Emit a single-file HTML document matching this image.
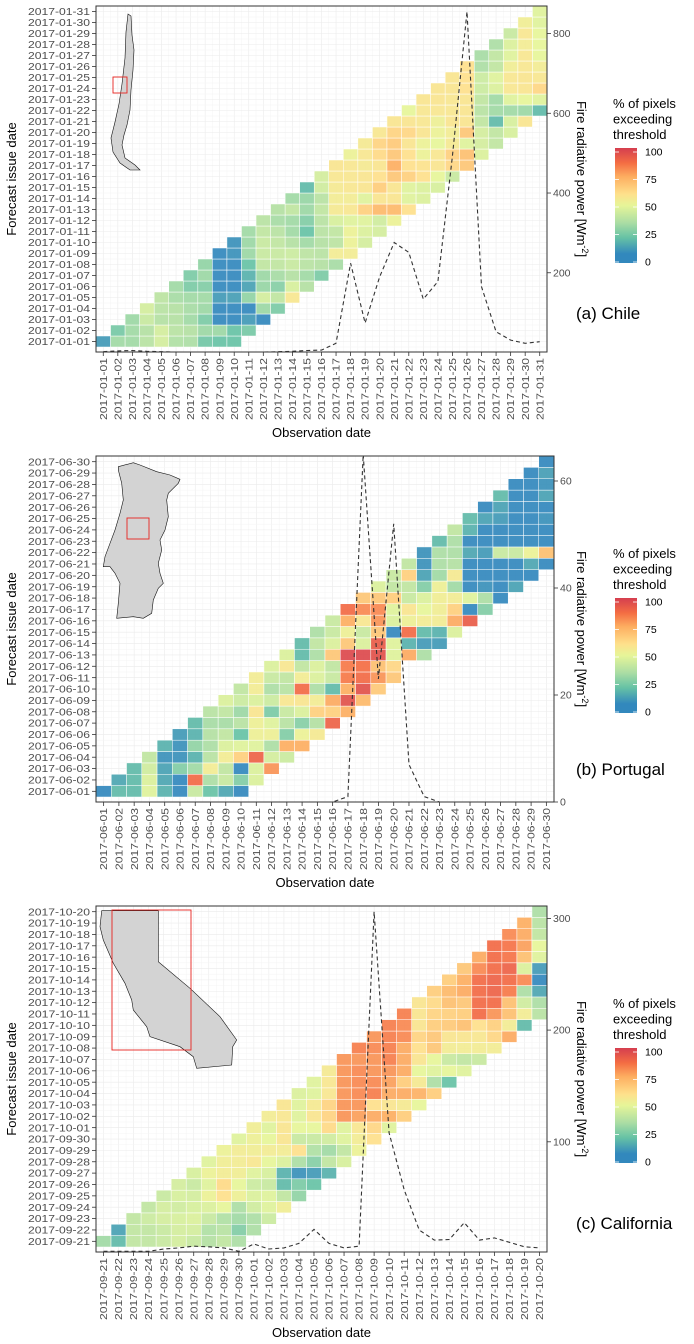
<!DOCTYPE html>
<html><head><meta charset="utf-8"><style>
html,body{margin:0;padding:0;background:#fff}
svg{display:block;font-family:"Liberation Sans",Arial,sans-serif}
</style></head><body>
<svg id="chart" width="694" height="1344" viewBox="0 0 694 1344" xmlns="http://www.w3.org/2000/svg">
<defs>
<linearGradient id="cbar" x1="0" y1="1" x2="0" y2="0">
<stop offset="0" stop-color="#3288BD"/><stop offset="0.08" stop-color="#3288BD"/><stop offset="0.22" stop-color="#66C2A5"/><stop offset="0.35" stop-color="#ABDDA4"/><stop offset="0.5" stop-color="#E6F598"/><stop offset="0.6" stop-color="#FEE08B"/><stop offset="0.75" stop-color="#FDAE61"/><stop offset="0.87" stop-color="#F46D43"/><stop offset="1" stop-color="#D53E4F"/>
</linearGradient>
</defs>
</svg>
<script>
// ---- Panel A (Chile) data ----
const rowsA = [
[12,33,33,38,45,36,35,24,22,22],[25,33,37,45,38,37,32,32,22,25],[32,42,37,37,33,26,5,5,12,8],
[45,38,37,34,32,5,5,8,32,26],[39,34,33,33,12,13,30,45,40,57],[33,26,27,6,5,14,31,28,46,37],
[26,32,5,5,18,32,34,37,33,26],[30,5,5,22,40,40,42,38,37,34],[6,10,32,42,42,43,39,38,55,55],
[10,32,42,40,37,33,37,39,52,45],[33,40,38,33,22,38,40,52,47,45],[38,34,33,27,38,46,48,48,44,52],
[37,40,32,40,56,57,65,72,72,60],[33,31,38,55,55,48,58,58,48,47],[20,44,56,57,58,66,58,48,47,46],
[45,57,57,58,60,68,65,60,50,42],[58,57,56,58,75,60,59,58,63,68],[52,57,62,68,60,52,57,65,70,47],
[56,64,67,58,52,50,56,48,45,40],[57,64,63,58,52,55,68,45,40,46],[58,58,57,53,58,58,40,20,46,58],
[50,57,57,57,58,38,33,33,32,20],[58,58,57,58,40,33,48,50,48],[58,58,60,43,47,57,58,63],
[58,60,43,48,57,58,57],[60,35,40,54,57,55],[34,40,48,57,50],[35,47,55,50],[42,57,50],[54,48],[48]];
const frpA = [2,4,5,3,2,1,0,0,0,0,1,1,2,3,5,6,23,224,74,190,276,251,134,178,492,855,165,52,31,23,27];
const datesA = ["01","02","03","04","05","06","07","08","09","10","11","12","13","14","15","16","17","18","19","20","21","22","23","24","25","26","27","28","29","30","31"].map(d=>"2017-01-"+d);
const ticksA = [200,400,600,800];

// ---- Panel B (Portugal) data ----
const rowsB = [
[5,20,20,48,18,5,42,22,15,5],[15,20,47,15,5,88,35,42,27,47],[20,44,14,27,33,55,40,5,47,80],
[40,10,10,18,38,55,65,90,45,43],[18,10,30,35,47,48,48,35,75,75],[12,18,37,40,22,53,53,27,52,56],
[20,34,34,38,53,48,38,28,37,90],[38,40,32,58,26,42,47,65,65,75],[47,43,47,43,57,58,55,76,95,72],
[40,55,35,38,88,35,20,75,95,67],[55,42,40,55,47,42,85,88,80,68],[47,57,40,47,40,85,87,70,63,null],
[47,20,35,68,97,97,95,48,76,35],[20,40,47,68,47,92,48,18,12,12],[35,42,53,42,68,8,88,20,18,47],
[42,75,57,80,47,53,55,55,76,92],[88,82,82,48,58,50,54,65,8,27],[68,68,66,42,47,54,55,48,35,5],
[47,40,40,27,53,33,8,10,8,14],[42,65,14,33,56,5,5,5,6,5],[40,10,35,37,5,5,5,8,15,5],
[10,35,35,15,12,42,42,52,70],[20,35,5,5,5,5,5,5],[40,18,5,5,5,5,5],[20,14,12,5,5,10],
[5,14,8,5,8],[20,5,8,14],[5,8,10],[8,13],[5]];
const frpB = [0,0,0,0,0,0,0,0,0,0,0,0,0,0,0,0,1,65,23,52,7,1,0,0,0,0,0,0,0,0];
const datesB = Array.from({length:30},(_,i)=>"2017-06-"+String(i+1).padStart(2,"0"));
const ticksB = [0,20,40,60];

// ---- Panel C (California) data ----
const rowsC = [
[33,20,40,40,42,45,42,37,40,35],[14,40,40,42,45,45,36,38,27,35],[40,43,45,46,47,42,36,33,35,43],
[40,45,44,46,47,50,35,44,48,54],[42,46,45,52,60,53,47,48,40,30],[45,42,48,62,50,43,42,20,26,22],
[46,52,55,54,48,46,18,10,12,18],[48,54,55,57,50,47,35,28,40,46],[52,55,54,55,55,60,36,33,40,52],
[48,53,50,58,42,42,44,48,55,60],[54,48,58,50,50,62,48,57,63,48],[55,57,48,58,64,80,78,76,75,66],
[58,48,56,64,80,80,60,58,56,50],[47,48,57,80,82,84,76,76,74,66],[48,57,80,82,82,78,66,56,35,22],
[56,80,82,80,80,76,50,48,50,48],[80,80,80,84,76,58,50,42,40,42],[84,82,84,76,60,68,55,55,55,55],
[80,84,82,64,68,58,58,57,63,76],[84,82,58,66,67,70,60,65,55,20],[84,58,64,65,66,88,80,70,55,38],
[58,62,70,68,88,88,70,44,35],[66,72,76,88,90,85,35,15],[66,75,88,90,88,82,6],[68,82,88,90,47,12],
[76,88,86,70,48],[88,86,78,50],[82,76,40],[75,38],[35]];
const frpC = [2,2,2,2,4,5,6.5,6,5,2,8.5,4,5,9,21.6,9,5,6.5,306,108,57,21,12,12.5,27.6,12,14,10,6,5];
const datesC = ["2017-09-21","2017-09-22","2017-09-23","2017-09-24","2017-09-25","2017-09-26","2017-09-27","2017-09-28","2017-09-29","2017-09-30"].concat(Array.from({length:20},(_,i)=>"2017-10-"+String(i+1).padStart(2,"0")));
const ticksC = [100,200,300];

const NS="http://www.w3.org/2000/svg";
const svg=document.getElementById("chart");
function mk(tag,attrs,parent,text){const e=document.createElementNS(NS,tag);for(const k in attrs)e.setAttribute(k,attrs[k]);if(text!==undefined)e.textContent=text;(parent||svg).appendChild(e);return e;}
const stops=[[0,[50,136,189]],[8,[50,136,189]],[22,[102,194,165]],[35,[171,221,164]],[50,[230,245,152]],[60,[254,224,139]],[75,[253,174,97]],[87,[244,109,67]],[100,[213,62,79]]];
function col(v){for(let i=1;i<stops.length;i++){if(v<=stops[i][0]){const a=stops[i-1],b=stops[i],t=(v-a[0])/((b[0]-a[0])||1);return "rgb("+a[1].map((c,j)=>Math.round(c+(b[1][j]-c)*t)).join(",")+")";}}return "rgb(213,62,79)";}

function panel(cfg){
  const g=mk("g",{});
  
  
  const n=cfg.dates.length, cw=(cfg.x1-cfg.x0)/n, rh=(cfg.cb-cfg.y0)/n;
  const xc=j=>cfg.x0+(j+0.5)*cw, yc=i=>cfg.cb-(i+0.5)*rh;
  const yv=v=>cfg.zeroY - v*cfg.scale;
  for(let j=0;j<n;j++){mk("line",{x1:xc(j),x2:xc(j),y1:cfg.y0,y2:cfg.yb,stroke:"#ebebeb","stroke-width":0.6},g);
    mk("line",{x1:cfg.x0+j*cw,x2:cfg.x0+j*cw,y1:cfg.y0,y2:cfg.yb,stroke:"#f4f4f4","stroke-width":0.5},g);}
  for(let i=0;i<n;i++){mk("line",{x1:cfg.x0,x2:cfg.x1,y1:yc(i),y2:yc(i),stroke:"#ebebeb","stroke-width":0.6},g);
    mk("line",{x1:cfg.x0,x2:cfg.x1,y1:cfg.cb-i*rh,y2:cfg.cb-i*rh,stroke:"#f4f4f4","stroke-width":0.5},g);}
  const mp=mk("polygon",{points:cfg.map,fill:"#d3d3d3",stroke:"#111","stroke-width":0.6},g);
  
  
  const rb=mk("rect",{x:cfg.box[0],y:cfg.box[1],width:cfg.box[2],height:cfg.box[3],fill:"none",stroke:"#e8231f","stroke-width":0.9},g);
  
  
  cfg.rows.forEach((row,i)=>{row.forEach((v,k)=>{const j=i+k;if(v===null||j>=n)return;
    const r=mk("rect",{x:cfg.x0+j*cw,y:cfg.cb-(i+1)*rh,width:cw,height:rh,fill:col(v),"fill-opacity":0.92,stroke:"#fff","stroke-width":0.5},g);
    
    
  });});
  const clip="clip"+cfg.name; const cp=mk("clipPath",{id:clip},svg); mk("rect",{x:cfg.x0,y:cfg.y0,width:cfg.x1-cfg.x0,height:cfg.yb-cfg.y0},cp);
  const pl=mk("polyline",{points:cfg.frp.map((v,j)=>xc(j).toFixed(1)+","+yv(v).toFixed(1)).join(" "),fill:"none",stroke:"#333","stroke-width":1.1,"stroke-dasharray":"4,3","clip-path":"url(#"+clip+")"},g);
  
  
  mk("rect",{x:cfg.x0,y:cfg.y0,width:cfg.x1-cfg.x0,height:cfg.yb-cfg.y0,fill:"none",stroke:"#333","stroke-width":1},g);
  cfg.dates.forEach((d,i)=>{mk("line",{x1:cfg.x0-4,x2:cfg.x0,y1:yc(i),y2:yc(i),stroke:"#333","stroke-width":0.8},g);
    const t=mk("text",{x:cfg.x0-6,y:yc(i)+3.6,"text-anchor":"end","font-size":10,fill:"#4d4d4d",textLength:62,lengthAdjust:"spacingAndGlyphs"},g,d);
    
    
    mk("line",{x1:xc(i),x2:xc(i),y1:cfg.yb,y2:cfg.yb+4,stroke:"#333","stroke-width":0.8},g);
    const tx=mk("text",{x:0,y:0,"text-anchor":"end","font-size":10,fill:"#4d4d4d",textLength:62,lengthAdjust:"spacingAndGlyphs",transform:"translate("+(xc(i)+3.6)+","+(cfg.yb+6)+") rotate(-90)"},g,d);
    
    
  });
  cfg.ticks.forEach(v=>{mk("line",{x1:cfg.x1,x2:cfg.x1+4,y1:yv(v),y2:yv(v),stroke:"#333","stroke-width":0.8},g);
    const t=mk("text",{x:cfg.x1+6,y:yv(v)+3.6,"font-size":10.5,fill:"#4d4d4d"},g,String(v));
    
    });
  const off=cfg.off, mid=(cfg.y0+cfg.yb)/2;
  const yt=mk("text",{x:0,y:0,"text-anchor":"middle","font-size":13,fill:"#000",transform:"translate(16,"+mid+") rotate(-90)"},g,"Forecast issue date");
  
  
  const xt=mk("text",{x:(cfg.x0+cfg.x1)/2,y:cfg.yb+85,"text-anchor":"middle","font-size":13,fill:"#000"},g,"Observation date");
  
  
  const rt=mk("text",{x:0,y:0,"text-anchor":"middle","font-size":13,fill:"#000",transform:"translate(577,"+mid+") rotate(90)"},g);
  
  
  mk("tspan",{},rt,"Fire radiative power [Wm");
  mk("tspan",{"font-size":9,dy:-5},rt,"-2");
  mk("tspan",{dy:5},rt,"]");
  const lg=mk("g",{},g);
  
  
  ["% of pixels","exceeding","threshold"].forEach((s,k)=>mk("text",{x:613,y:off+108+k*15.5,"font-size":13,fill:"#000"},lg,s));
  mk("rect",{x:615,y:off+148,width:22,height:115,fill:"url(#cbar)"},lg);
  [0,25,50,75,100].forEach(v=>{const y=off+262-v*1.1;
    mk("line",{x1:615,x2:619,y1:y,y2:y,stroke:"#fff","stroke-width":0.8},lg);
    mk("line",{x1:633,x2:637,y1:y,y2:y,stroke:"#fff","stroke-width":0.8},lg);
    mk("text",{x:645,y:y+3.6,"font-size":10.5,fill:"#000"},lg,String(v));});
  const pt=mk("text",{x:576,y:cfg.labelY,"font-size":17,fill:"#000"},g,cfg.label);
  
  
}
function pts(arr,ox,oy){return arr.map(p=>(ox+p[0]/3).toFixed(1)+","+(oy+p[1]/3).toFixed(1)).join(" ");}
panel({name:"panel-chile",rows:rowsA,frp:frpA,dates:datesA,ticks:ticksA,x0:96,x1:547,y0:6,yb:352,cb:347,zeroY:352.5,scale:0.3987,off:0,labelY:319,label:"(a) Chile",
  map:"128,14 131,16 132,35 134,50 133,70 131,90 130,110 127,125 124,135 122,145 125,158 135,165 140,170 130,170 120,163 113,152 111,138 115,122 119,104 122,84 125,58 126,32",box:[113,77,14,16]});
panel({name:"panel-portugal",rows:rowsB,frp:frpB,dates:datesB,ticks:ticksB,x0:96,x1:554,y0:456,yb:802,cb:797,zeroY:802,scale:5.35,off:450,labelY:775,label:"(b) Portugal",
  map:pts([[85,50],[130,38],[150,45],[200,65],[240,75],[270,88],[265,100],[235,130],[230,150],[235,200],[225,240],[210,270],[215,300],[205,340],[210,370],[220,400],[205,415],[190,450],[185,490],[160,505],[130,500],[80,505],[85,460],[90,400],[75,370],[60,350],[40,350],[45,320],[60,280],[75,240],[90,190],[100,150],[95,100],[85,60]],90,450),box:[127,518,22,21]});
panel({name:"panel-california",rows:rowsC,frp:frpC,dates:datesC,ticks:ticksC,x0:96,x1:547,y0:906,yb:1252,cb:1247,zeroY:1253.5,scale:1.117,off:900,labelY:1229,label:"(c) California",
  map:pts([[35,32],[205,32],[205,185],[300,265],[390,350],[440,420],[428,440],[425,495],[320,505],[310,470],[270,440],[180,410],[170,380],[130,330],[125,300],[105,250],[70,190],[40,120],[30,80]],90,900),box:[112,910,79,140]});
</script>
</body></html>
